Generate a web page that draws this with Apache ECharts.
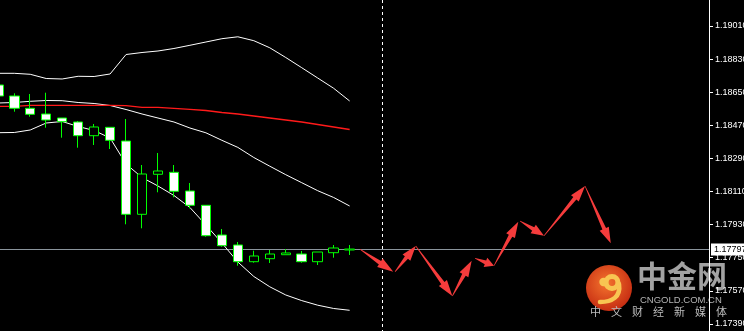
<!DOCTYPE html>
<html><head><meta charset="utf-8">
<script src="https://cdn.jsdelivr.net/npm/echarts@6/dist/echarts.min.js"></script>
<style>html,body{margin:0;padding:0;background:#000}#c{width:744px;height:331px}</style>
</head><body><div id="c"></div>
<script>
// ---- data ----
const categories = Array.from({length: 45}, (_, i) => String(i));
const opens  = [1.186892,1.186294,1.185625,1.185315,1.185097,1.184880,1.184135,1.184591,1.183846,1.179860,1.182036,1.182144,1.181127,1.180350,1.178735,1.178191,1.177283,1.177446,1.177663,1.177701,1.177283,1.177772,1.177919];
const closes = [1.186294,1.185625,1.185298,1.184988,1.184896,1.184135,1.184608,1.183884,1.179860,1.182052,1.182215,1.181111,1.180350,1.178697,1.178153,1.177283,1.177593,1.177701,1.177756,1.177283,1.177810,1.178028,1.177970];
const lows   = [1.186240,1.185440,1.185168,1.184570,1.184026,1.183482,1.183629,1.183411,1.179317,1.179099,1.181057,1.180785,1.180187,1.178642,1.178098,1.177065,1.177228,1.177212,1.177663,1.177228,1.177103,1.177500,1.177647];
const highs  = [1.186950,1.186440,1.186402,1.186473,1.185097,1.184934,1.184771,1.184608,1.185043,1.182541,1.183194,1.182541,1.181562,1.180350,1.179061,1.178354,1.177881,1.177919,1.177973,1.177865,1.177810,1.178191,1.178191];
const upperBand  = [1.187528,1.187528,1.187474,1.187245,1.187218,1.187365,1.187354,1.187490,1.188550,1.188659,1.188741,1.188877,1.189051,1.189230,1.189409,1.189513,1.189301,1.188915,1.188387,1.187832,1.187272,1.186712,1.186022];
const middleBand = [1.185913,1.185940,1.186005,1.186049,1.186038,1.185940,1.185886,1.185777,1.185559,1.185315,1.185097,1.184880,1.184553,1.184292,1.183884,1.183498,1.182949,1.182476,1.182014,1.181579,1.181144,1.180774,1.180312];
const lowerBand  = [1.184298,1.184309,1.184445,1.184825,1.184907,1.184635,1.184417,1.184010,1.182596,1.181862,1.181399,1.180883,1.180230,1.179278,1.178300,1.177266,1.176478,1.175918,1.175472,1.175167,1.174917,1.174738,1.174640];
const maLine     = [1.185733,1.185733,1.185788,1.185788,1.185788,1.185788,1.185788,1.185788,1.185766,1.185679,1.185679,1.185625,1.185570,1.185505,1.185396,1.185315,1.185206,1.185097,1.184988,1.184880,1.184744,1.184608,1.184472];
const arrowX1 = [22.65, 24.84, 26.14, 28.43, 29.85, 31.04, 32.67, 34.17, 36.74];
const arrowY1 = [1.177957, 1.176739, 1.178137, 1.175418, 1.177468, 1.177065, 1.179496, 1.178697, 1.181399];
const arrowX2 = [24.73, 26.14, 28.43, 29.64, 31.04, 32.56, 34.17, 36.74, 38.35];
const arrowY2 = [1.176739, 1.178137, 1.175418, 1.177337, 1.177065, 1.179458, 1.178697, 1.181399, 1.178283];
const yTicks = [1.17390, 1.17570, 1.17750, 1.17930, 1.18110, 1.18290, 1.18470, 1.18650, 1.18830, 1.19010];
const lastPrice = 1.17797;
const separatorIndex = 24;
const yMin = 1.173514, yMax = 1.191514;

// ---- build ----
const candleData = opens.map((o, i) => [o, closes[i], lows[i], highs[i]]);
const arrowData = arrowX1.map((x, i) => [x, arrowY1[i], arrowX2[i], arrowY2[i]]);
const chart = echarts.init(document.getElementById('c'), null, {renderer: 'canvas'});
const FONT = '"Liberation Sans", Arial, sans-serif';
const wm = ['中','文','财','经','新','媒','体'].map((ch, i) => ({
  type: 'text', z: 1, silent: true,
  style: {text: ch, x: 590 + i * 21, y: 306, font: '11px "Noto Sans CJK SC"', fill: '#bdbdbd', verticalAlign: 'top'}
}));
chart.setOption({
  backgroundColor: '#000',
  animation: false,
  grid: {left: -9.7, right: 35, top: 0, bottom: 0, containLabel: false, outerBoundsMode: 'none'},
  xAxis: [
    {type: 'category', data: categories, boundaryGap: true, show: false},
    {type: 'value', min: -0.5, max: 44.5, show: false}
  ],
  yAxis: {
    type: 'value', position: 'right', min: yMin, max: yMax, z: 5,
    axisLine: {show: true, onZero: false, lineStyle: {color: '#ffffff', width: 1}},
    axisTick: {show: true, customValues: yTicks, length: 4, lineStyle: {color: '#ffffff'}},
    axisLabel: {show: true, customValues: yTicks, color: '#ffffff', margin: 6, fontSize: 9, fontFamily: FONT,
      formatter: v => v.toFixed(5)},
    splitLine: {show: false}
  },
  graphic: [
    {type: 'circle', z: 1, silent: true, shape: {cx: 609, cy: 288, r: 23},
      style: {fill: new echarts.graphic.RadialGradient(0.45, 0.4, 0.65, [{offset: 0, color: '#f4742e'}, {offset: 1, color: '#c32810'}])}},
    {type: 'circle', z: 2, silent: true, shape: {cx: 603.5, cy: 282, r: 4.2}, style: {fill: '#f8c552'}},
    {type: 'ring', z: 2, silent: true, shape: {cx: 612, cy: 282.5, r: 8.5, r0: 3.4}, style: {fill: '#f8c552'}},
    {type: 'bezierCurve', z: 2, silent: true, shape: {x1: 619, y1: 284, cpx1: 621, cpy1: 297, cpx2: 612, cpy2: 302, x2: 600, y2: 302},
      style: {stroke: '#f8c552', lineWidth: 4.5, fill: null, lineCap: 'round'}},
    {type: 'text', z: 1, silent: true, style: {text: '中金网', x: 637, y: 261, font: 'bold 30px "Noto Sans CJK SC"', fill: '#a2a2a2', verticalAlign: 'top'}},
    {type: 'text', z: 1, silent: true, style: {text: 'CNGOLD.COM.CN', x: 640, y: 295, font: '9.5px "Liberation Sans"', fill: '#b4b4b4', verticalAlign: 'top'}}
  ].concat(wm),
  series: [
    {type: 'line', data: upperBand, symbol: 'none', lineStyle: {color: '#ffffff', width: 1}, silent: true, z: 2},
    {type: 'line', data: middleBand, symbol: 'none', lineStyle: {color: '#ffffff', width: 1}, silent: true, z: 2},
    {type: 'line', data: lowerBand, symbol: 'none', lineStyle: {color: '#ffffff', width: 1}, silent: true, z: 2},
    {type: 'line', data: maLine, symbol: 'none', lineStyle: {color: '#ff1a1a', width: 1.3}, silent: true, z: 2},
    {type: 'custom', xAxisIndex: 1, yAxisIndex: 0, data: [[separatorIndex, lastPrice]], encode: {x: 0, y: 1}, z: 1, silent: true, clip: false,
      renderItem: function (params, api) {
        const cs = params.coordSys;
        const pt = api.coord([api.value(0), api.value(1)]);
        const yy = Math.round(pt[1]) + 0.5, xx = Math.round(pt[0]) + 0.5;
        return {type: 'group', children: [
          {type: 'line', shape: {x1: Math.max(cs.x, 0), y1: yy, x2: cs.x + cs.width, y2: yy}, style: {stroke: '#8a949c', lineWidth: 1}},
          {type: 'line', shape: {x1: xx, y1: cs.y, x2: xx, y2: cs.y + cs.height}, style: {stroke: '#ffffff', lineWidth: 1, lineDash: [3, 3]}}
        ]};
      }},
    {type: 'candlestick', data: candleData, barWidth: 10, z: 3,
      itemStyle: {color: '#000000', color0: '#ffffff', borderColor: '#00ff00', borderColor0: '#00ff00', borderWidth: 1}},
    {type: 'custom', xAxisIndex: 1, yAxisIndex: 0, data: arrowData, encode: {x: [0, 2], y: [1, 3]}, z: 4, silent: true, clip: false,
      renderItem: function (params, api) {
        const p = api.coord([api.value(0), api.value(1)]);
        const q = api.coord([api.value(2), api.value(3)]);
        const dx = q[0] - p[0], dy = q[1] - p[1], L = Math.hypot(dx, dy);
        const ux = dx / L, uy = dy / L, nx = -uy, ny = ux;
        const hl = Math.min(16, L * 0.45), hw = 5, sw = 2, tw = 0.3;
        const bx = q[0] - ux * hl, by = q[1] - uy * hl;
        return {type: 'polygon', shape: {points: [
          [p[0] + nx * tw, p[1] + ny * tw], [bx + nx * sw, by + ny * sw], [bx + nx * hw, by + ny * hw],
          [q[0], q[1]], [bx - nx * hw, by - ny * hw], [bx - nx * sw, by - ny * sw], [p[0] - nx * tw, p[1] - ny * tw]
        ]}, style: {fill: '#f53c3c'}};
      }},
    {type: 'custom', xAxisIndex: 1, yAxisIndex: 0, data: [[44.5, lastPrice]], encode: {x: 0, y: 1}, z: 20, zlevel: 1, silent: true, clip: false,
      renderItem: function (params, api) {
        const pt = api.coord([api.value(0), api.value(1)]);
        return {type: 'text', x: pt[0] + 2, y: Math.round(pt[1]) + 0.5, style: {
          text: api.value(1).toFixed(5), fill: '#000000', backgroundColor: '#ffffff', padding: [2, 4, 1, 3],
          font: '9px ' + FONT, verticalAlign: 'middle', align: 'left'}};
      }}
  ]
});
</script>
</body></html>
